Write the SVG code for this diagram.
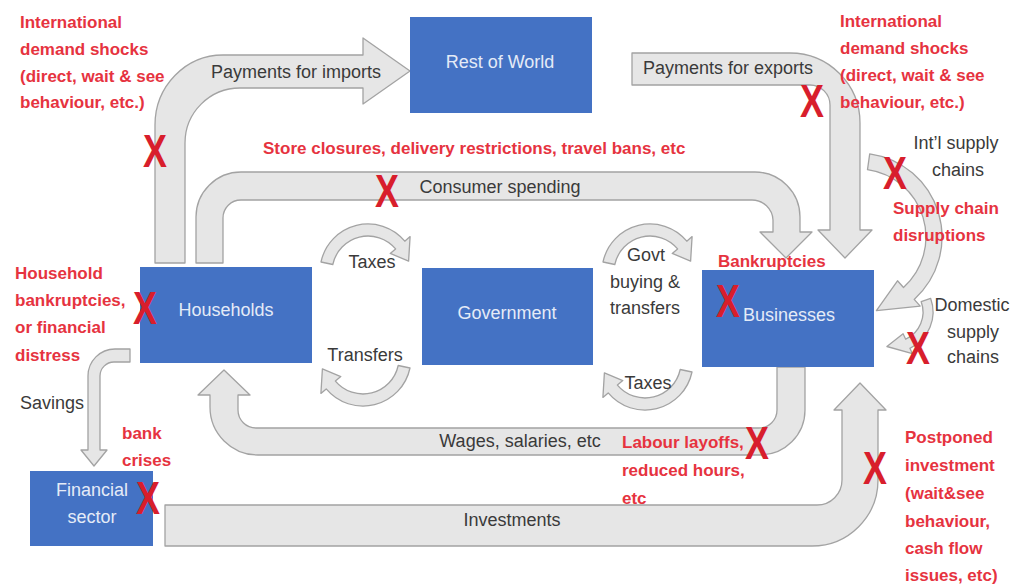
<svg xmlns="http://www.w3.org/2000/svg" width="1013" height="584" viewBox="0 0 1013 584">
<style>
.box{fill:#4472C4}
.bl{font-family:"Liberation Sans",Arial,sans-serif;font-size:18px;fill:#E4EBF7;text-anchor:middle}
.arr{fill:#E6E6E6;stroke:#A3A3A3;stroke-width:1.3;stroke-linejoin:round}
.lb{font-family:"Liberation Sans",Arial,sans-serif;font-size:18px;fill:#3A3A3A;text-anchor:middle}
.rd{font-family:"Liberation Sans",Arial,sans-serif;font-size:17px;font-weight:bold;fill:#E6333F}
.x{font-family:"Liberation Sans",Arial,sans-serif;font-size:46px;font-weight:bold;fill:#D81E2C;text-anchor:middle}
</style>
<rect width="1013" height="584" fill="#FFFFFF"/>
<g id="connectors">
  <path id="imports" class="arr" d="M155,263 L155,125 A68,70 0 0 1 223,55 L363,55 L363,38 L410,71 L363,104 L363,88 L240,88 A55,55 0 0 0 185,143 L185,263 Z"/>
  <path id="consumer" class="arr" d="M196,263 L196,217 A45,45 0 0 1 241,172 L755,172 A45,45 0 0 1 800,217 L800,232 L812,232 L786,258 L760,232 L773,232 L773,220 A21,21 0 0 0 752,200 L241,200 A18,18 0 0 0 223,218 L223,263 Z"/>
  <path id="exports" class="arr" d="M632,53 L790,53 A70,70 0 0 1 860,123 L860,230 L872,230 L845,258 L818,230 L830,230 L830,105 A20,20 0 0 0 810,85 L632,85 Z"/>
  <path id="wages" class="arr" d="M805,367 L805,410 A45,45 0 0 1 760,455 L258,455 A48,48 0 0 1 210,407 L210,395 L198,395 L224,370 L250,395 L238,395 L238,410 A18,18 0 0 0 256,428 L759,428 A18,18 0 0 0 777,410 L777,367 Z"/>
  <path id="investments" class="arr" d="M165,505 L817,505 A25,25 0 0 0 842,480 L842,410 L834,410 L860,383 L886,410 L878,410 L878,480 A66,66 0 0 1 812,546 L165,546 Z"/>
  <path id="savings" class="arr" d="M130,349 L115,349 A27,27 0 0 0 88,376 L88,450 L81,450 L94,466 L107,450 L100,450 L100,376 A14,14 0 0 1 114,362 L130,362 Z"/>
  <path id="taxes-hh" class="arr" d="M321,262 A48,48 0 0 1 404.8,241.2 L410.1,236.6 L408.6,261.1 L390.2,253.4 L395.6,248.9 A36,36 0 0 0 332.8,264.5 Z"/>
  <path id="transfers-hh" class="arr" d="M410,368 A48,48 0 0 1 326.2,388.9 L320.9,393.4 L322.4,368.9 L340.8,376.6 L335.4,381.1 A36,36 0 0 0 398.2,365.5 Z"/>
  <path id="govt-buying" class="arr" d="M603,262 A48,48 0 0 1 686.8,241.2 L692.1,236.6 L690.6,261.1 L672.2,253.4 L677.6,248.9 A36,36 0 0 0 614.8,264.5 Z"/>
  <path id="taxes-bus" class="arr" d="M692,372 A48,48 0 0 1 608.2,392.9 L602.9,397.4 L604.4,372.9 L622.8,380.6 L617.4,385.1 A36,36 0 0 0 680.2,369.5 Z"/>
  <path id="intl-supply" class="arr" d="M869.7,153.8 A84,84 0 0 1 914.2,299.4 L920.2,306.1 L876.4,310.7 L897.5,280.8 L903.5,287.5 A68,68 0 0 0 867.5,169.7 Z"/>
  <path id="domestic-supply" class="arr" d="M930.6,298.3 A40,40 0 0 1 909.9,348.3 L912.4,353.7 L886.9,346.5 L903.1,333.8 L905.7,339.2 A30,30 0 0 0 921.2,301.7 Z"/>
  <text class="lb" x="296" y="78">Payments for imports</text>
  <text class="lb" x="728" y="74">Payments for exports</text>
  <text class="lb" x="500" y="193">Consumer spending</text>
  <text class="lb" x="520" y="447">Wages, salaries, etc</text>
  <text class="lb" x="512" y="526">Investments</text>
  <text class="lb" x="52" y="409">Savings</text>
  <text class="lb" x="372" y="268">Taxes</text>
  <text class="lb" x="365" y="361">Transfers</text>
  <text class="lb" x="646" y="261">Govt</text>
  <text class="lb" x="645" y="288">buying &amp;</text>
  <text class="lb" x="645" y="314">transfers</text>
  <text class="lb" x="648" y="389">Taxes</text>
  <text class="lb" x="956" y="149">Int’l supply</text>
  <text class="lb" x="958" y="176">chains</text>
  <text class="lb" x="972" y="311">Domestic</text>
  <text class="lb" x="973" y="338">supply</text>
  <text class="lb" x="973" y="363">chains</text>
</g>
<g id="rest-of-world">
  <rect class="box" x="410" y="17" width="182" height="96"/>
  <text class="bl" x="500" y="68">Rest of World</text>
</g>
<g id="households">
  <rect class="box" x="140" y="267" width="172" height="96"/>
  <text class="bl" x="226" y="316">Households</text>
</g>
<g id="government">
  <rect class="box" x="422" y="268" width="171" height="97"/>
  <text class="bl" x="507" y="319">Government</text>
</g>
<g id="businesses">
  <rect class="box" x="702" y="270" width="172" height="97"/>
  <text class="bl" x="789" y="321">Businesses</text>
</g>
<g id="financial-sector">
  <rect class="box" x="30" y="471" width="123" height="75"/>
  <text class="bl" x="92" y="496">Financial</text>
  <text class="bl" x="92" y="523">sector</text>
</g>
<g id="annotations">
  <text class="rd" x="20" y="28">International</text>
  <text class="rd" x="20" y="55">demand shocks</text>
  <text class="rd" x="20" y="82">(direct, wait &amp; see</text>
  <text class="rd" x="20" y="108">behaviour, etc.)</text>
  <text class="rd" x="840" y="27">International</text>
  <text class="rd" x="840" y="54">demand shocks</text>
  <text class="rd" x="840" y="81">(direct, wait &amp; see</text>
  <text class="rd" x="840" y="108">behaviour, etc.)</text>
  <text class="rd" x="263" y="154">Store closures, delivery restrictions, travel bans, etc</text>
  <text class="rd" x="893" y="214">Supply chain</text>
  <text class="rd" x="893" y="241">disruptions</text>
  <text class="rd" x="718" y="267">Bankruptcies</text>
  <text class="rd" x="15" y="279">Household</text>
  <text class="rd" x="15" y="306">bankruptcies,</text>
  <text class="rd" x="15" y="333">or financial</text>
  <text class="rd" x="15" y="361">distress</text>
  <text class="rd" x="122" y="439">bank</text>
  <text class="rd" x="122" y="466">crises</text>
  <text class="rd" x="622" y="448">Labour layoffs,</text>
  <text class="rd" x="622" y="476">reduced hours,</text>
  <text class="rd" x="622" y="504">etc</text>
  <text class="rd" x="905" y="443">Postponed</text>
  <text class="rd" x="905" y="471">investment</text>
  <text class="rd" x="905" y="499">(wait&amp;see</text>
  <text class="rd" x="905" y="527">behaviour,</text>
  <text class="rd" x="905" y="554">cash flow</text>
  <text class="rd" x="905" y="581">issues, etc)</text>
</g>
<g id="x-marks">
  <text class="x" transform="translate(155,167) scale(0.78,1)">X</text>
  <text class="x" transform="translate(387,207) scale(0.78,1)">X</text>
  <text class="x" transform="translate(812,117) scale(0.78,1)">X</text>
  <text class="x" transform="translate(895,189) scale(0.78,1)">X</text>
  <text class="x" transform="translate(145,324) scale(0.78,1)">X</text>
  <text class="x" transform="translate(728,317) scale(0.78,1)">X</text>
  <text class="x" transform="translate(918,364) scale(0.78,1)">X</text>
  <text class="x" transform="translate(757,459) scale(0.78,1)">X</text>
  <text class="x" transform="translate(875,484) scale(0.78,1)">X</text>
  <text class="x" transform="translate(148,514) scale(0.78,1)">X</text>
</g>
</svg>
